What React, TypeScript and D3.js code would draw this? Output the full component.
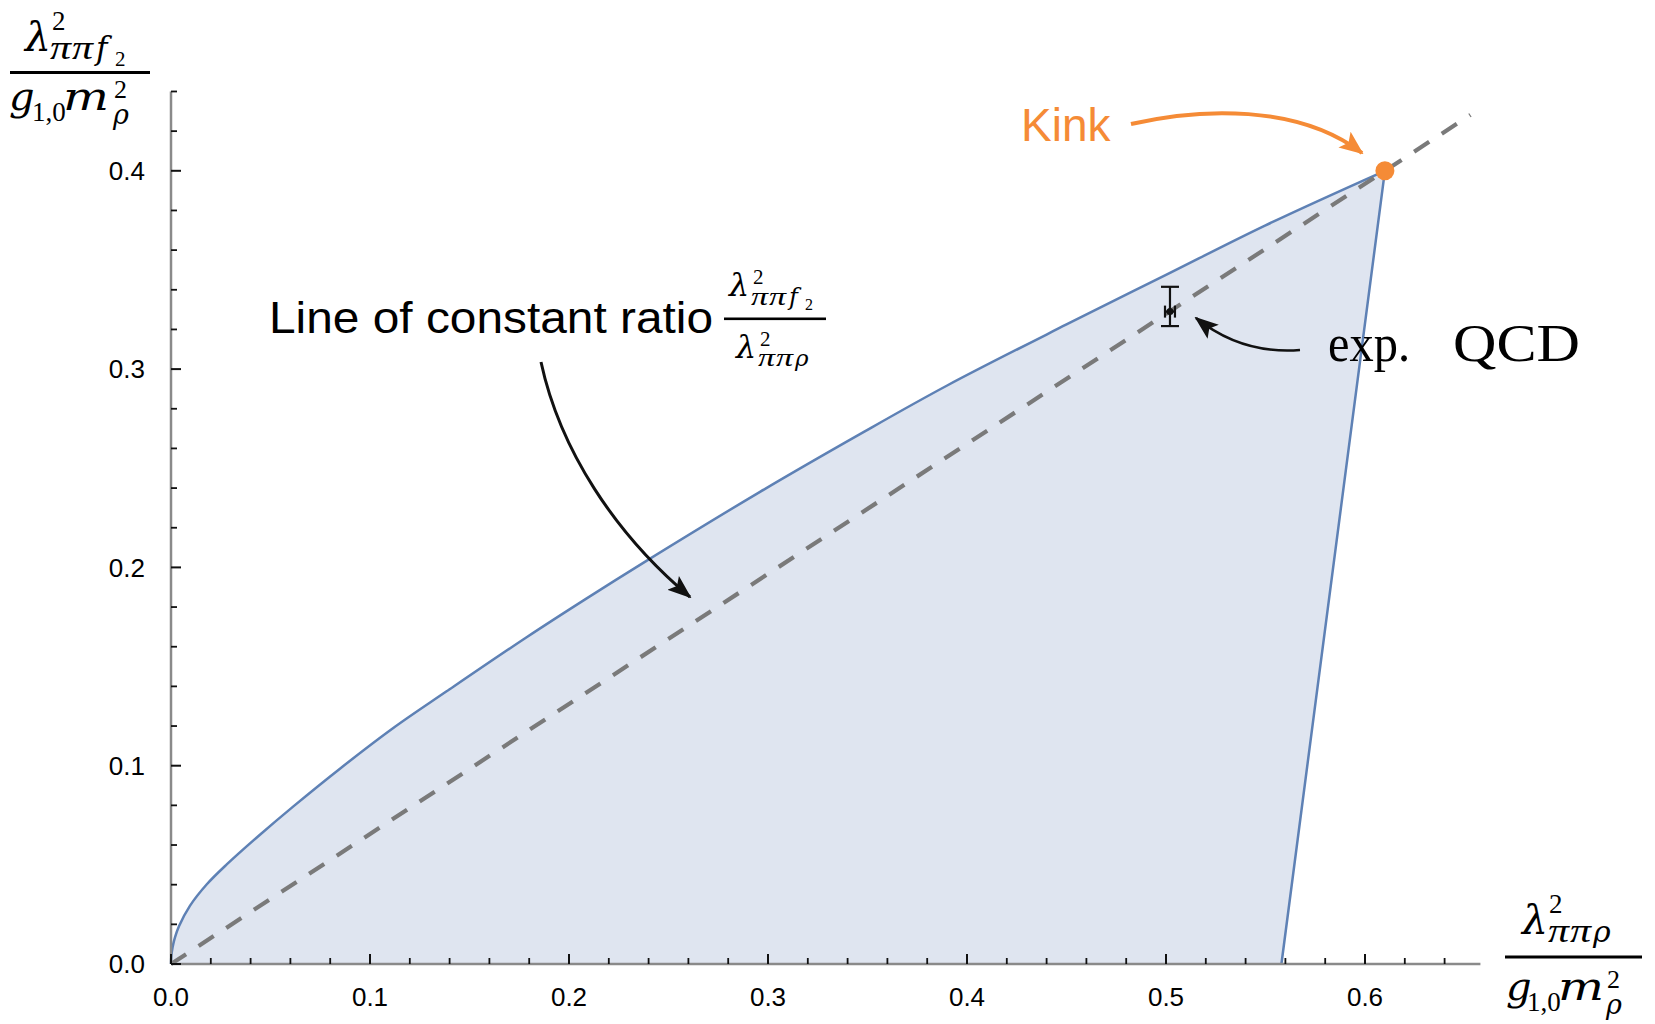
import React from "react";
import * as d3 from "d3";

const W = 1655;
const H = 1024;

// Upper edge of the allowed region, from the origin up to the kink
const boundaryX = [0, 0.0002, 0.0008, 0.002, 0.004, 0.0095, 0.018, 0.028, 0.0447, 0.0615, 0.0849, 0.1117, 0.1385, 0.1787, 0.2089, 0.2373, 0.296, 0.3462, 0.3898, 0.45, 0.5, 0.55, 0.61];
const boundaryY = [0, 0.0043, 0.0085, 0.0134, 0.019, 0.0293, 0.0402, 0.0502, 0.0652, 0.0795, 0.0985, 0.119, 0.1375, 0.1648, 0.1844, 0.2023, 0.2381, 0.2672, 0.2916, 0.3225, 0.3475, 0.3725, 0.4];

// Kink of the bound and where the right edge meets the horizontal axis
const kinkX = 0.61;
const kinkY = 0.4;
const rightEdgeFootX = 0.558;

// Line of constant ratio through the kink
const ratioLineEndX = 0.653;

// Experimental QCD point with its error bars
const qcdX = 0.502;
const qcdY = 0.329;
const qcdYLow = 0.3217;
const qcdYHigh = 0.3415;
const qcdXErr = 0.0025;

// Axis ticks
const xMajorTicks = [0, 0.1, 0.2, 0.3, 0.4, 0.5, 0.6];
const yMajorTicks = [0, 0.1, 0.2, 0.3, 0.4];
const xMinorTicks = [0.02, 0.04, 0.06, 0.08, 0.12, 0.14, 0.16, 0.18, 0.22, 0.24, 0.26, 0.28, 0.32, 0.34, 0.36, 0.38, 0.42, 0.44, 0.46, 0.48, 0.52, 0.54, 0.56, 0.58, 0.62, 0.64];
const yMinorTicks = [0.02, 0.04, 0.06, 0.08, 0.12, 0.14, 0.16, 0.18, 0.22, 0.24, 0.26, 0.28, 0.32, 0.34, 0.36, 0.38, 0.42, 0.44];
const xDomain = [0, 0.658];
const yDomain = [0, 0.44];

const BLUE = "#5E81B5";
const FILL = "#DFE5F0";
const ORANGE = "#F58B36";
const SANS = "'Liberation Sans', Arial, sans-serif";
const DV = "'DejaVu Serif', serif";
const LS = "'Liberation Serif', 'Times New Roman', serif";

type Piece = { t: string; x: number; y: number; s: number; f?: string; it?: boolean; w?: number };

// A typeset formula: each glyph group is placed on its own
function Formula({ pieces, bar }: { pieces: Piece[]; bar: [number, number, number, number] }) {
  return (
    <g fill="#000">
      {pieces.map((p, i) => (
        <text
          key={i}
          x={p.x}
          y={p.y}
          fontSize={p.s}
          fontFamily={p.f || DV}
          fontStyle={p.it ? "italic" : "normal"}
          textLength={p.w}
          lengthAdjust={p.w ? "spacingAndGlyphs" : undefined}
        >
          {p.t}
        </text>
      ))}
      <rect x={bar[0]} y={bar[1]} width={bar[2]} height={bar[3]} />
    </g>
  );
}

export default function App() {
  const x = d3.scaleLinear().domain(xDomain).range([171, 171 + 0.658 * 1990]);
  const y = d3.scaleLinear().domain(yDomain).range([964, 964 - 0.44 * 1983]);

  const pts: [number, number][] = boundaryX.map((v, i) => [v, boundaryY[i]]);
  const line = d3
    .line<[number, number]>()
    .x((d) => x(d[0]))
    .y((d) => y(d[1]))
    .curve(d3.curveCatmullRom.alpha(0.5));
  const upper = line(pts) as string;
  const foot = `L${x(rightEdgeFootX)},${y(0)}`;
  const areaPath = `${upper}${foot}Z`;
  const edgePath = `${upper}${foot}`;

  // Annotation arrows (cubic Bézier, control points in data space)
  const bez = (p: number[][]) => {
    const q = p.map(([a, b]) => [x(a), y(b)]);
    return `M${q[0][0]},${q[0][1]}C${q[1][0]},${q[1][1]} ${q[2][0]},${q[2][1]} ${q[3][0]},${q[3][1]}`;
  };
  const px = (v: number) => x.invert(v);
  const py = (v: number) => y.invert(v);
  const ratioArrow = bez([
    [px(541), py(362)],
    [px(560), py(450)],
    [px(615), py(534)],
    [px(690), py(597)],
  ]);
  const qcdArrow = bez([
    [px(1300), py(350)],
    [px(1262), py(353)],
    [px(1226), py(342)],
    [px(1196), py(318)],
  ]);
  const kinkArrow = bez([
    [px(1131), py(124)],
    [px(1200), py(108)],
    [px(1298), py(104)],
    [px(1362), py(153)],
  ]);

  const tickColor = "#111";
  const axisColor = "#8a8a8a";

  return (
    <svg
      width={W}
      height={H}
      viewBox={`0 0 ${W} ${H}`}
      style={{ position: "absolute", left: 0, top: 0, background: "#fff" }}
    >
      <defs>
        <marker id="headBlack" viewBox="0 0 24 18" refX="22" refY="9" markerWidth="24" markerHeight="18" markerUnits="userSpaceOnUse" orient="auto">
          <path d="M0,0 L24,9 L0,18 L5,9 Z" fill="#111" />
        </marker>
        <marker id="headOrange" viewBox="0 0 24 20" refX="22" refY="10" markerWidth="24" markerHeight="20" markerUnits="userSpaceOnUse" orient="auto">
          <path d="M0,0 L24,10 L0,20 L5,10 Z" fill={ORANGE} />
        </marker>
      </defs>

      {/* allowed region */}
      <path d={areaPath} fill={FILL} stroke="none" />
      <path d={edgePath} fill="none" stroke={BLUE} strokeWidth={2.5} strokeLinejoin="round" />

      {/* line of constant ratio */}
      <line
        x1={x(0)}
        y1={y(0)}
        x2={x(ratioLineEndX)}
        y2={y((kinkY / kinkX) * ratioLineEndX)}
        stroke="#7a7a7a"
        strokeWidth={4.2}
        strokeDasharray="18 15"
      />

      {/* axes */}
      <line x1={x(0)} y1={y(0)} x2={x(xDomain[1])} y2={y(0)} stroke={axisColor} strokeWidth={2.5} />
      <line x1={x(0)} y1={y(0)} x2={x(0)} y2={y(yDomain[1])} stroke={axisColor} strokeWidth={2.5} />
      {xMajorTicks.map((t) => (
        <g key={"xM" + t}>
          <line x1={x(t)} x2={x(t)} y1={y(0)} y2={y(0) - 10} stroke={tickColor} strokeWidth={2} />
          <text x={x(t)} y={1006} textAnchor="middle" fontFamily={SANS} fontSize={26} fill="#000">
            {d3.format(".1f")(t)}
          </text>
        </g>
      ))}
      {xMinorTicks.map((t) => (
        <line key={"xm" + t} x1={x(t)} x2={x(t)} y1={y(0)} y2={y(0) - 6} stroke={tickColor} strokeWidth={1.8} />
      ))}
      {yMajorTicks.map((t) => (
        <g key={"yM" + t}>
          <line x1={x(0)} x2={x(0) + 10} y1={y(t)} y2={y(t)} stroke={tickColor} strokeWidth={2} />
          <text x={145} y={y(t)} dy="0.36em" textAnchor="end" fontFamily={SANS} fontSize={26} fill="#000">
            {d3.format(".1f")(t)}
          </text>
        </g>
      ))}
      {yMinorTicks.map((t) => (
        <line key={"ym" + t} x1={x(0)} x2={x(0) + 6} y1={y(t)} y2={y(t)} stroke={tickColor} strokeWidth={1.8} />
      ))}

      {/* experimental QCD point */}
      <g stroke="#111" strokeWidth={2.2}>
        <line x1={x(qcdX)} x2={x(qcdX)} y1={y(qcdYLow)} y2={y(qcdYHigh)} />
        <line x1={x(qcdX) - 9} x2={x(qcdX) + 9} y1={y(qcdYLow)} y2={y(qcdYLow)} />
        <line x1={x(qcdX) - 9} x2={x(qcdX) + 9} y1={y(qcdYHigh)} y2={y(qcdYHigh)} />
        <line x1={x(qcdX - qcdXErr)} x2={x(qcdX + qcdXErr)} y1={y(qcdY)} y2={y(qcdY)} />
        <line x1={x(qcdX - qcdXErr)} x2={x(qcdX - qcdXErr)} y1={y(qcdY) - 6} y2={y(qcdY) + 6} />
        <line x1={x(qcdX + qcdXErr)} x2={x(qcdX + qcdXErr)} y1={y(qcdY) - 6} y2={y(qcdY) + 6} />
      </g>
      <circle cx={x(qcdX)} cy={y(qcdY)} r={3.5} fill="#111" />

      {/* kink */}
      <circle cx={x(kinkX)} cy={y(kinkY)} r={9.5} fill={ORANGE} />

      {/* annotation arrows */}
      <path d={ratioArrow} fill="none" stroke="#111" strokeWidth={3} markerEnd="url(#headBlack)" />
      <path d={qcdArrow} fill="none" stroke="#111" strokeWidth={2.6} markerEnd="url(#headBlack)" />
      <path d={kinkArrow} fill="none" stroke={ORANGE} strokeWidth={4} markerEnd="url(#headOrange)" />

      {/* annotation texts */}
      <text x={1021} y={141} fontFamily={SANS} fontSize={46} fill={ORANGE}>Kink</text>
      <text x={1328} y={361} fontFamily={LS} fontSize={53} fill="#000" textLength={82} lengthAdjust="spacingAndGlyphs">exp.</text>
      <text x={1453} y={361} fontFamily={LS} fontSize={53} fill="#000" textLength={127} lengthAdjust="spacingAndGlyphs">QCD</text>
      <text x={269} y={333} fontFamily={SANS} fontSize={44} fill="#000" textLength={444} lengthAdjust="spacingAndGlyphs">Line of constant ratio</text>

      {/* ratio fraction in the annotation */}
      <Formula
        bar={[724, 317.5, 102, 2.6]}
        pieces={[
          { t: "λ", x: 729, y: 296, s: 32, it: true },
          { t: "2", x: 753, y: 284, s: 21, f: LS },
          { t: "π", x: 751, y: 305, s: 26, f: LS, it: true, w: 17 },
          { t: "π", x: 769, y: 305, s: 26, f: LS, it: true, w: 17 },
          { t: "f", x: 789, y: 305, s: 24, it: true },
          { t: "2", x: 805, y: 310, s: 16, f: LS },
          { t: "λ", x: 736, y: 358, s: 32, it: true },
          { t: "2", x: 760, y: 346, s: 21, f: LS },
          { t: "π", x: 758, y: 366, s: 26, f: LS, it: true, w: 17 },
          { t: "π", x: 776, y: 366, s: 26, f: LS, it: true, w: 17 },
          { t: "ρ", x: 795, y: 366, s: 23, it: true },
        ]}
      />

      {/* vertical axis label */}
      <Formula
        bar={[10, 71, 140, 3]}
        pieces={[
          { t: "λ", x: 25, y: 51, s: 41, it: true },
          { t: "2", x: 52, y: 30, s: 27, f: LS },
          { t: "π", x: 50, y: 59, s: 34, f: LS, it: true, w: 21 },
          { t: "π", x: 72, y: 59, s: 34, f: LS, it: true, w: 21 },
          { t: "f", x: 96, y: 59, s: 31, it: true },
          { t: "2", x: 115, y: 66, s: 21, f: LS },
          { t: "g", x: 9, y: 110, s: 40, it: true },
          { t: "1,0", x: 32, y: 121, s: 27, f: LS },
          { t: "m", x: 63, y: 110, s: 40, it: true, w: 46 },
          { t: "2", x: 114, y: 98, s: 26, f: LS },
          { t: "ρ", x: 113, y: 124, s: 27, it: true },
        ]}
      />

      {/* horizontal axis label */}
      <Formula
        bar={[1505, 955.5, 137, 3]}
        pieces={[
          { t: "λ", x: 1522, y: 934, s: 41, it: true },
          { t: "2", x: 1549, y: 913, s: 27, f: LS },
          { t: "π", x: 1548, y: 942, s: 34, f: LS, it: true, w: 21 },
          { t: "π", x: 1570, y: 942, s: 34, f: LS, it: true, w: 21 },
          { t: "ρ", x: 1593, y: 942, s: 30, it: true },
          { t: "g", x: 1506, y: 1000, s: 40, it: true },
          { t: "1,0", x: 1527, y: 1011, s: 27, f: LS },
          { t: "m", x: 1558, y: 1000, s: 40, it: true, w: 46 },
          { t: "2", x: 1607, y: 988, s: 26, f: LS },
          { t: "ρ", x: 1606, y: 1014, s: 27, it: true },
        ]}
      />
    </svg>
  );
}
